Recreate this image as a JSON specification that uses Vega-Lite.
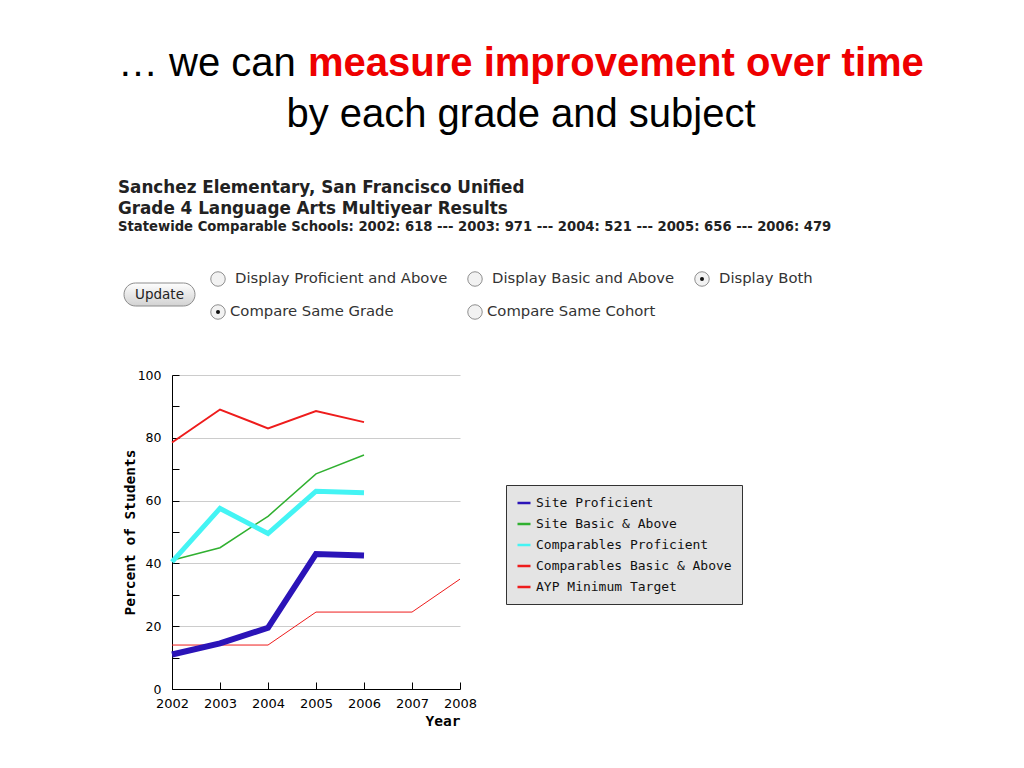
{
  "$schema": "https://vega.github.io/schema/vega-lite/v6.json",
  "background": "white",
  "padding": {"left": 118, "top": 44, "right": 10, "bottom": 10},
  "config": {"view": {"stroke": null}, "font": "DejaVu Sans"},
  "spacing": 0,
  "vconcat": [
    {
      "spacing": 0,
      "hconcat": [
        {
          "width": 190, "height": 11,
          "data": {"values": []},
          "mark": "point",
          "title": {"text": "… we can", "anchor": "start", "font": "Liberation Sans", "fontSize": 40, "fontWeight": "normal", "color": "#000000", "offset": 0}
        },
        {
          "width": 620, "height": 11,
          "data": {"values": []},
          "mark": "point",
          "title": {"text": "measure improvement over time", "anchor": "start", "font": "Liberation Sans", "fontSize": 40, "fontWeight": "bold", "color": "#ee0000", "offset": 0}
        }
      ]
    },
    {
      "width": 806, "height": 45,
      "data": {"values": []},
      "mark": "point",
      "title": {"text": "by each grade and subject", "anchor": "middle", "font": "Liberation Sans", "fontSize": 40, "fontWeight": "normal", "color": "#000000", "offset": 0}
    },
    {
      "width": 806, "height": 106,
      "title": {
        "text": ["Sanchez Elementary, San Francisco Unified", "Grade 4 Language Arts Multiyear Results"],
        "subtitle": "Statewide Comparable Schools: 2002: 618 --- 2003: 971 --- 2004: 521 --- 2005: 656 --- 2006: 479",
        "anchor": "start", "frame": "group",
        "font": "DejaVu Sans", "fontSize": 16.8, "fontWeight": "bold", "color": "#222222", "lineHeight": 21,
        "subtitleFont": "DejaVu Sans", "subtitleFontSize": 13.2, "subtitleFontWeight": "bold", "subtitleColor": "#222222", "subtitlePadding": 3,
        "offset": 30
      },
      "data": {"values": [
        {"kind": "button", "label": "Update", "col": 0, "row": 1.5, "selected": false},
        {"kind": "radio", "label": "Display Proficient and Above", "col": 1, "row": 1, "selected": false},
        {"kind": "radio", "label": "Display Basic and Above", "col": 2, "row": 1, "selected": false},
        {"kind": "radio", "label": "Display Both", "col": 3, "row": 1, "selected": true},
        {"kind": "radio", "label": "Compare Same Grade", "col": 1, "row": 2, "selected": true},
        {"kind": "radio", "label": "Compare Same Cohort", "col": 2, "row": 2, "selected": false}
      ]},
      "encoding": {
        "x": {"field": "col", "type": "quantitative", "scale": {"domain": [0, 1, 2, 3], "range": [41.5, 100, 357, 584]}, "axis": null},
        "y": {"field": "row", "type": "quantitative", "scale": {"domain": [1, 2], "range": [16, 49]}, "axis": null}
      },
      "layer": [
        {
          "transform": [{"filter": "datum.kind === 'button'"}],
          "mark": {"type": "rect", "width": 71, "height": 23, "cornerRadius": 11.5, "stroke": "#8c8c8c", "strokeWidth": 1, "yOffset": -1,
            "fill": {"gradient": "linear", "x1": 0, "y1": 0, "x2": 0, "y2": 1, "stops": [{"offset": 0, "color": "#fefefe"}, {"offset": 1, "color": "#d2d2d2"}]}}
        },
        {
          "transform": [{"filter": "datum.kind === 'button'"}],
          "mark": {"type": "text", "align": "center", "baseline": "middle", "dy": -1, "font": "DejaVu Sans", "fontSize": 13.5, "color": "#222222"},
          "encoding": {"text": {"field": "label"}}
        },
        {
          "transform": [{"filter": "datum.kind === 'radio'"}],
          "mark": {"type": "point", "shape": "circle", "size": 210, "filled": true, "fill": "#f2f2f2", "stroke": "#8f8f8f", "strokeWidth": 1, "opacity": 1}
        },
        {
          "transform": [{"filter": "datum.kind === 'radio' && datum.selected"}],
          "mark": {"type": "point", "shape": "circle", "size": 16, "filled": true, "fill": "#111111", "opacity": 1}
        },
        {
          "transform": [{"filter": "datum.kind === 'radio' && datum.row === 1"}],
          "mark": {"type": "text", "align": "left", "baseline": "middle", "dx": 17, "font": "DejaVu Sans", "fontSize": 14.8, "color": "#333333"},
          "encoding": {"text": {"field": "label"}}
        },
        {
          "transform": [{"filter": "datum.kind === 'radio' && datum.row === 2"}],
          "mark": {"type": "text", "align": "left", "baseline": "middle", "dx": 12, "font": "DejaVu Sans", "fontSize": 14.8, "color": "#333333"},
          "encoding": {"text": {"field": "label"}}
        }
      ]
    },
    {
      "spacing": 3,
      "hconcat": [
        {"width": 1, "height": 1, "data": {"values": []}, "mark": "point"},
        {
          "width": 288, "height": 314,
          "data": {"values": [
            {"series": "Site Proficient", "year": 2002, "value": 11},
            {"series": "Site Proficient", "year": 2003, "value": 14.5},
            {"series": "Site Proficient", "year": 2004, "value": 19.5},
            {"series": "Site Proficient", "year": 2005, "value": 43},
            {"series": "Site Proficient", "year": 2006, "value": 42.5},
            {"series": "Site Basic & Above", "year": 2002, "value": 41},
            {"series": "Site Basic & Above", "year": 2003, "value": 45},
            {"series": "Site Basic & Above", "year": 2004, "value": 55},
            {"series": "Site Basic & Above", "year": 2005, "value": 68.5},
            {"series": "Site Basic & Above", "year": 2006, "value": 74.5},
            {"series": "Comparables Proficient", "year": 2002, "value": 40.5},
            {"series": "Comparables Proficient", "year": 2003, "value": 57.5},
            {"series": "Comparables Proficient", "year": 2004, "value": 49.5},
            {"series": "Comparables Proficient", "year": 2005, "value": 63},
            {"series": "Comparables Proficient", "year": 2006, "value": 62.5},
            {"series": "Comparables Basic & Above", "year": 2002, "value": 78.5},
            {"series": "Comparables Basic & Above", "year": 2003, "value": 89},
            {"series": "Comparables Basic & Above", "year": 2004, "value": 83},
            {"series": "Comparables Basic & Above", "year": 2005, "value": 88.5},
            {"series": "Comparables Basic & Above", "year": 2006, "value": 85},
            {"series": "AYP Minimum Target", "year": 2002, "value": 14},
            {"series": "AYP Minimum Target", "year": 2003, "value": 14},
            {"series": "AYP Minimum Target", "year": 2004, "value": 14},
            {"series": "AYP Minimum Target", "year": 2005, "value": 24.5},
            {"series": "AYP Minimum Target", "year": 2006, "value": 24.5},
            {"series": "AYP Minimum Target", "year": 2007, "value": 24.5},
            {"series": "AYP Minimum Target", "year": 2008, "value": 35}
          ]},
          "encoding": {
            "x": {"field": "year", "type": "quantitative",
              "scale": {"domain": [2002, 2008], "nice": false, "zero": false},
              "axis": {"values": [2002, 2003, 2004, 2005, 2006, 2007, 2008], "format": "d", "grid": false,
                "title": "Year", "titleAnchor": "end", "titleFont": "DejaVu Sans Mono", "titleFontWeight": "bold", "titleFontSize": 14.5, "titleColor": "#000000", "titlePadding": 4,
                "labelFont": "DejaVu Sans", "labelFontSize": 13, "labelColor": "#000000", "labelFlush": false, "labelPadding": 15,
                "tickSize": -7, "tickColor": "#000000", "domainColor": "#000000"}},
            "y": {"field": "value", "type": "quantitative",
              "scale": {"domain": [0, 100], "nice": false},
              "axis": {"values": [0, 10, 20, 30, 40, 50, 60, 70, 80, 90, 100],
                "labelExpr": "datum.value % 20 === 0 ? datum.label : ''",
                "grid": true,
                "gridColor": {"condition": {"test": "datum.value % 20 === 0", "value": "#cccccc"}, "value": "rgba(0,0,0,0)"},
                "title": "Percent of Students", "titleFont": "DejaVu Sans Mono", "titleFontWeight": "bold", "titleFontSize": 14.5, "titleColor": "#000000", "titlePadding": 0,
                "labelFont": "DejaVu Sans", "labelFontSize": 12.5, "labelColor": "#000000", "labelPadding": 18,
                "tickSize": -7, "tickColor": "#000000", "domainColor": "#000000"}},
            "color": {"field": "series", "type": "nominal",
              "scale": {"domain": ["Site Proficient", "Site Basic & Above", "Comparables Proficient", "Comparables Basic & Above", "AYP Minimum Target"],
                "range": ["#2b14b8", "#30b030", "#44f4f4", "#ee1c1c", "#ee1c1c"]},
              "legend": {"orient": "none", "legendX": 388, "legendY": 401, "title": null,
                "fillColor": "#e4e4e4", "strokeColor": "#333333", "padding": 10,
                "labelFont": "DejaVu Sans Mono", "labelFontSize": 13, "labelColor": "#111111", "labelOffset": 4, "labelLimit": 400,
                "symbolType": "stroke", "symbolSize": 169, "symbolStrokeWidth": 2.5, "rowPadding": 6}}
          },
          "layer": [
            {"transform": [{"filter": "datum.series === 'AYP Minimum Target'"}], "mark": {"type": "line", "strokeWidth": 1}},
            {"transform": [{"filter": "datum.series === 'Comparables Basic & Above'"}], "mark": {"type": "line", "strokeWidth": 2}},
            {"transform": [{"filter": "datum.series === 'Site Basic & Above'"}], "mark": {"type": "line", "strokeWidth": 1.5}},
            {"transform": [{"filter": "datum.series === 'Comparables Proficient'"}], "mark": {"type": "line", "strokeWidth": 5}},
            {"transform": [{"filter": "datum.series === 'Site Proficient'"}], "mark": {"type": "line", "strokeWidth": 6}}
          ]
        }
      ]
    }
  ]
}
